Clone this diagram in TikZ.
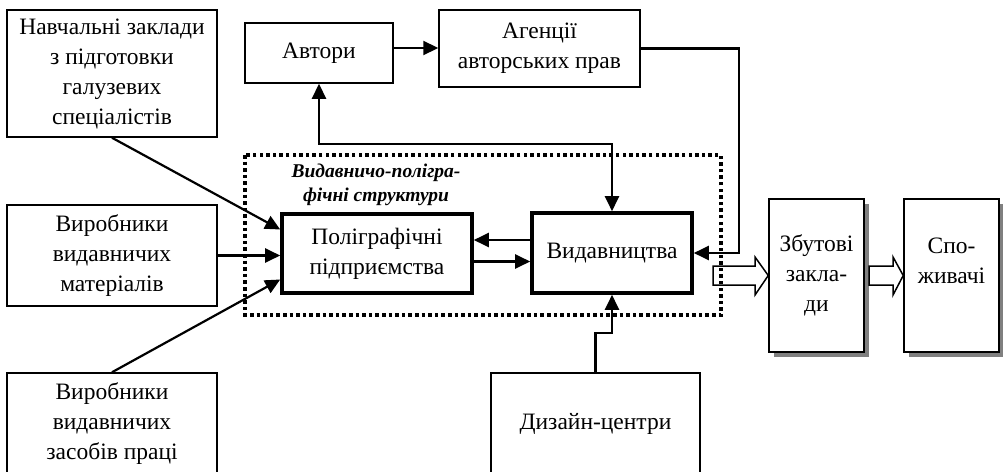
\documentclass[tikz,border=0pt]{standalone}
\usepackage{fontspec}
\setmainfont{Liberation Serif}
\usetikzlibrary{arrows.meta,shadows,calc}
\begin{document}
\begin{tikzpicture}[x=1pt,y=-1pt,
  box/.style={draw,line width=1.5pt,fill=white,align=center,inner sep=0pt,font=\fontsize{23.5}{30}\selectfont},
  thickbox/.style={box,line width=3.6pt},
  shbox/.style={box,drop shadow={shadow xshift=5pt,shadow yshift=-5pt,fill=black!50,opacity=1}},
  conn/.style={line width=2.2pt,-{Triangle[length=15pt,width=14pt]}},
  conn2/.style={line width=2.2pt,{Triangle[length=15pt,width=14pt]}-{Triangle[length=15pt,width=14pt]}},
  dotbox/.style={line width=3.4pt,dash pattern=on 3.5pt off 3.1pt},
  blockarrow/.style={line width=1.5pt,fill=white},
  title/.style={font=\fontsize{19.5}{24}\selectfont\bfseries\itshape,align=center,inner sep=0pt}
]
\useasboundingbox (0,0) rectangle (1003,471);
\clip (0,0) rectangle (1003,471);

% nodes
\node[box,minimum width=210pt,minimum height=127pt] (nav) at (112,73.5) {Навчальні заклади\\з підготовки\\галузевих\\спеціалістів};
\node[box,minimum width=148pt,minimum height=60pt] (avt) at (319,53) {Автори};
\node[box,minimum width=201pt,minimum height=77pt] (ag) at (539.5,48.5) {Агенції\\авторських прав};
\node[box,minimum width=210pt,minimum height=101pt] (vm) at (112,255.5) {Виробники\\видавничих\\матеріалів};
\node[box,minimum width=210pt,minimum height=102pt] (vz) at (112,424) {Виробники\\видавничих\\засобів праці};
\node[box,minimum width=209pt,minimum height=102pt] (diz) at (595.5,424) {Дизайн-центри};
\node[thickbox,minimum width=190pt,minimum height=79pt] (pol) at (377,253.5) {Поліграфічні\\підприємства};
\node[thickbox,minimum width=160pt,minimum height=80pt] (vyd) at (612,253) {Видавництва};
\node[shbox,minimum width=95pt,minimum height=153pt] (zb) at (816.5,275.5) {Збутові\\закла-\\ди};
\node[shbox,minimum width=95pt,minimum height=153pt] (sp) at (951.5,275.5) {Спо-\\живачі\\\mbox{}};

% dotted group title
\node[title] (ttl) at (376,185) {Видавничо-полігра-\\фічні структури};

% block arrows
\draw[blockarrow] (713,266) -- (755,266) -- (755,257) -- (zb.west) -- (755,295) -- (755,285) -- (713,285) -- cycle;
\draw[blockarrow] (869,266) -- (893,266) -- (893,257) -- (sp.west) -- (893,295) -- (893,285) -- (869,285) -- cycle;

\draw[dotbox] (245,155) rectangle (721,315);

% connectors
\coordinate (r) at (739,253);
\coordinate (j) at (466,144);
\coordinate (k) at (604,333);
\draw[conn] ([yshift=5pt]avt.east) -- ([yshift=5pt]avt.east -| ag.west);
\draw[conn] (ag.east) -| (r) -- (vyd.east);
\draw[conn2] (avt.south) |- (j) -| (vyd.north);
\draw[conn] ([yshift=13pt]vyd.west) -- ([yshift=13pt]vyd.west -| pol.east);
\draw[conn] ([yshift=-8pt]pol.east) -- ([yshift=-8pt]pol.east -| vyd.west);
\draw[conn] (nav.south) -- ([yshift=24pt]pol.west);
\draw[conn] (vm.east) -- (vm.east -| pol.west);
\draw[conn] (vz.north) -- ([yshift=-26pt]pol.west);
\draw[conn] (diz.north) |- (k) -| (vyd.south);
\end{tikzpicture}
\end{document}
